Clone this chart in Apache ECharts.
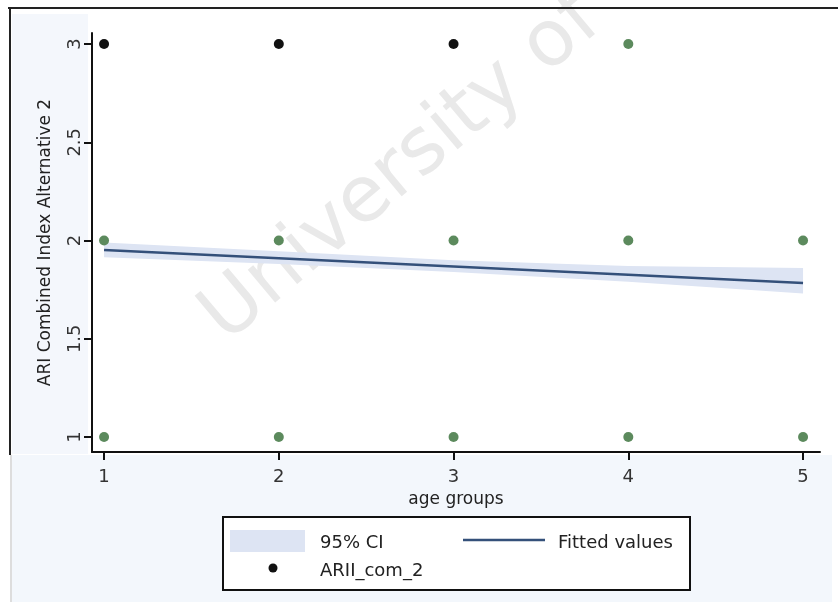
<!DOCTYPE html>
<html>
<head>
<meta charset="utf-8">
<script src="https://cdn.jsdelivr.net/npm/echarts@6/dist/echarts.min.js"></script>
<style>
  html, body { margin: 0; padding: 0; background: #ffffff; }
  #chart { width: 838px; height: 614px; }
</style>
</head>
<body>
<div id="chart"></div>
<script>
// Age groups on the x axis
const ageGroups = [1, 2, 3, 4, 5];
// Linear fit of ARII_com_2 on age group, with its 95% confidence band
const fittedValues = [1.952, 1.910, 1.868, 1.826, 1.784];
const ciLower = [1.915, 1.880, 1.840, 1.790, 1.730];
const ciUpper = [1.990, 1.945, 1.900, 1.870, 1.860];
// Observed ARII_com_2 values (x = age group, y = index)
const obsDark = [[1, 3], [2, 3], [3, 3]];
const obsGreen = [[4, 3], [1, 2], [2, 2], [3, 2], [4, 2], [5, 2], [1, 1], [2, 1], [3, 1], [4, 1], [5, 1]];
// Tick labels
const xTicks = [1, 2, 3, 4, 5];
const yTicks = [1, 1.5, 2, 2.5, 3];

const FONT = 'DejaVu Sans';
const CI_COLOR = '#dde4f3';
const FIT_COLOR = '#34507a';
const GREEN = '#5c8a5d';

const pair = (arr) => ageGroups.map((x, i) => [x, arr[i]]);
// one row per age group: x, lower bound, upper bound
const bandRows = ageGroups.map((x, i) => [x, ciLower[i], ciUpper[i]]);

const chart = echarts.init(document.getElementById('chart'));

chart.setOption({
  backgroundColor: '#ffffff',
  animation: false,
  grid: { left: 92, right: 18, top: 33, bottom: 162, containLabel: false },
  xAxis: {
    type: 'value',
    min: 0.931,
    max: 5.097,
    name: 'age groups',
    nameLocation: 'middle',
    nameGap: 38,
    nameTextStyle: { fontFamily: FONT, fontSize: 17, color: '#222' },
    splitLine: { show: false },
    axisLine: { show: true, onZero: false, lineStyle: { color: '#111', width: 2 } },
    axisTick: { show: true, customValues: xTicks, length: 8, lineStyle: { color: '#111', width: 2 } },
    axisLabel: { customValues: xTicks, margin: 16, fontFamily: FONT, fontSize: 18, color: '#333' }
  },
  yAxis: {
    type: 'value',
    min: 0.924,
    max: 3.056,
    name: 'ARI Combined Index Alternative 2',
    nameLocation: 'middle',
    nameRotate: 90,
    nameGap: 38,
    nameTextStyle: { fontFamily: FONT, fontSize: 17, color: '#222' },
    splitLine: { show: false },
    axisLine: { show: true, onZero: false, lineStyle: { color: '#111', width: 2 } },
    axisTick: { show: true, customValues: yTicks, length: 8, lineStyle: { color: '#111', width: 2 } },
    axisLabel: { customValues: yTicks, rotate: 90, margin: 8, fontFamily: FONT, fontSize: 18, color: '#333' }
  },
  series: [
    {
      // confidence band drawn as one polygon through the axis scales
      name: '95% CI',
      type: 'custom',
      data: bandRows,
      silent: true,
      z: 1,
      renderItem: function (params, api) {
        if (params.dataIndex !== 0) return null;
        const upper = bandRows.map(r => api.coord([r[0], r[2]]));
        const lower = bandRows.map(r => api.coord([r[0], r[1]])).reverse();
        return {
          type: 'polygon',
          shape: { points: upper.concat(lower) },
          style: { fill: CI_COLOR }
        };
      }
    },
    {
      name: 'Fitted values',
      type: 'line',
      data: pair(fittedValues),
      symbol: 'none',
      lineStyle: { color: FIT_COLOR, width: 2.5 },
      z: 3
    },
    {
      name: 'ARII_com_2',
      type: 'scatter',
      data: obsDark,
      symbolSize: 10,
      itemStyle: { color: '#111111', opacity: 1 },
      z: 4
    },
    {
      name: 'ARII_com_2',
      type: 'scatter',
      data: obsGreen,
      symbolSize: 10,
      itemStyle: { color: GREEN, opacity: 1 },
      z: 4
    }
  ],
  graphic: [
    // faint paper tint around the plot region
    { type: 'rect', z: -20, silent: true, shape: { x: 12, y: 455, width: 820, height: 147 }, style: { fill: '#f3f7fc' } },
    { type: 'rect', z: -20, silent: true, shape: { x: 12, y: 14, width: 76, height: 440 }, style: { fill: '#f4f7fc' } },
    // watermark
    {
      type: 'text', z: -5, silent: true,
      x: 238, y: 358, rotation: 40 * Math.PI / 180,
      style: { text: 'University of', fontFamily: FONT, fontSize: 78, fill: '#e9e9e9', textVerticalAlign: 'bottom', textAlign: 'left' }
    },
    // outer frame
    { type: 'line', z: 10, silent: true, shape: { x1: 8, y1: 8, x2: 838, y2: 8 }, style: { stroke: '#222', lineWidth: 2 } },
    { type: 'line', z: 10, silent: true, shape: { x1: 10, y1: 8, x2: 10, y2: 455 }, style: { stroke: '#222', lineWidth: 2 } },
    { type: 'line', z: 10, silent: true, shape: { x1: 11, y1: 455, x2: 11, y2: 602 }, style: { stroke: '#bbb', lineWidth: 1 } },
    // legend box
    { type: 'rect', z: 10, silent: true, shape: { x: 223, y: 517, width: 467, height: 73 }, style: { fill: '#ffffff', stroke: '#111', lineWidth: 2 } },
    { type: 'rect', z: 11, silent: true, shape: { x: 230, y: 530, width: 75, height: 22 }, style: { fill: CI_COLOR } },
    { type: 'text', z: 11, silent: true, x: 320, y: 543, style: { text: '95% CI', fontFamily: FONT, fontSize: 18, fill: '#222', textVerticalAlign: 'middle' } },
    { type: 'line', z: 11, silent: true, shape: { x1: 463, y1: 540, x2: 545, y2: 540 }, style: { stroke: FIT_COLOR, lineWidth: 2.5 } },
    { type: 'text', z: 11, silent: true, x: 558, y: 543, style: { text: 'Fitted values', fontFamily: FONT, fontSize: 18, fill: '#222', textVerticalAlign: 'middle' } },
    { type: 'circle', z: 11, silent: true, shape: { cx: 273, cy: 568, r: 4.5 }, style: { fill: '#111' } },
    { type: 'text', z: 11, silent: true, x: 320, y: 571, style: { text: 'ARII_com_2', fontFamily: FONT, fontSize: 18, fill: '#222', textVerticalAlign: 'middle' } }
  ]
});
</script>
</body>
</html>
